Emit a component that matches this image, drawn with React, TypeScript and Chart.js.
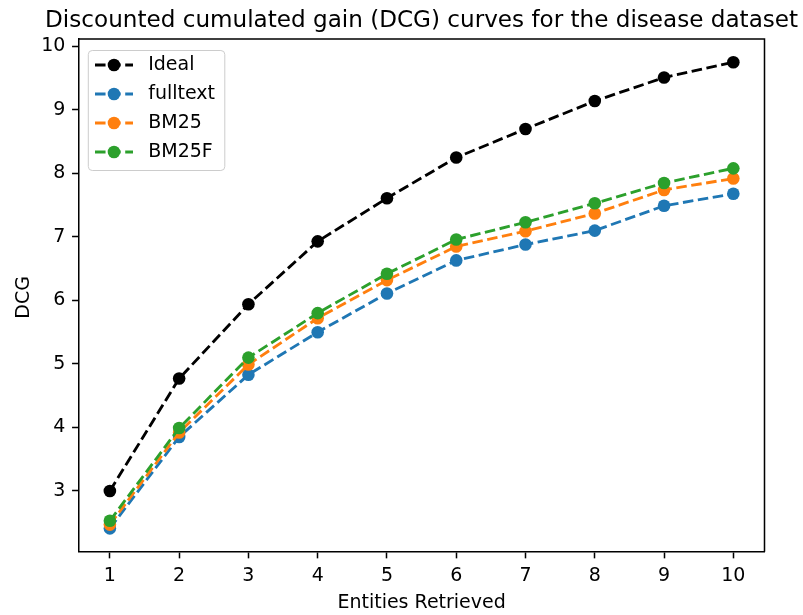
import React, { useEffect, useRef } from "react";
import { Chart, registerables } from "chart.js";

Chart.register(...registerables);

// ---- data ----
const entities = [1, 2, 3, 4, 5, 6, 7, 8, 9, 10];
const ideal = [3.0, 4.77, 5.94, 6.93, 7.61, 8.25, 8.7, 9.14, 9.51, 9.75];
const fulltext = [2.41, 3.85, 4.83, 5.5, 6.11, 6.63, 6.88, 7.1, 7.49, 7.68];
const bm25 = [2.47, 3.92, 4.99, 5.72, 6.32, 6.85, 7.09, 7.37, 7.74, 7.92];
const bm25f = [2.53, 3.99, 5.1, 5.8, 6.42, 6.96, 7.23, 7.53, 7.85, 8.08];
const seriesNames = ["Ideal", "fulltext", "BM25", "BM25F"];
const seriesValues = [ideal, fulltext, bm25, bm25f];
const seriesColors = ["#000000", "#1f77b4", "#ff7f0e", "#2ca02c"];
const xTicks = [1, 2, 3, 4, 5, 6, 7, 8, 9, 10];
const yTicks = [3, 4, 5, 6, 7, 8, 9, 10];
const titleText = "Discounted cumulated gain (DCG) curves for the disease dataset";
const xLabel = "Entities Retrieved";
const yLabel = "DCG";

// ---- style ----
const FONT = "'DejaVu Sans', sans-serif";
const PX = 1.9; // px per pt
const LW = 1.5 * PX;
const DASH = [3.7 * LW, 1.6 * LW];
const MARKER_R = 6.3;

function margins(values: number[]) {
  const lo = Math.min(...values);
  const hi = Math.max(...values);
  const r = hi - lo;
  return { min: lo - 0.05 * r, max: hi + 0.05 * r };
}

const textPlugin = {
  id: "mplDecor",
  afterDatasetsDraw(chart: any) {
    const { ctx, chartArea } = chart;
    const { left, right, top, bottom } = chartArea;
    ctx.save();
    ctx.strokeStyle = "#000";
    ctx.lineWidth = 0.8 * PX;
    ctx.beginPath();
    ctx.moveTo(left, top);
    ctx.lineTo(right, top);
    ctx.lineTo(right, bottom);
    ctx.stroke();
    ctx.restore();
  },
  afterDraw(chart: any) {
    const { ctx, chartArea } = chart;
    const { left, right, top, bottom } = chartArea;
    const cx = (left + right) / 2;
    const cy = (top + bottom) / 2;
    ctx.save();
    ctx.fillStyle = "#000";
    // title
    ctx.font = `${23.1}px ${FONT}`;
    ctx.textAlign = "center";
    ctx.textBaseline = "alphabetic";
    ctx.fillText(titleText, cx, 27);
    // axis labels
    ctx.font = `${10 * PX}px ${FONT}`;
    ctx.fillText(xLabel, cx, 607.5);
    ctx.save();
    ctx.translate(28.5, cy + 2);
    ctx.rotate(-Math.PI / 2);
    ctx.fillText(yLabel, 0, 0);
    ctx.restore();

    // legend
    const fs = 10 * PX;
    const bx = left + 9.6;
    const by = top + 11.5;
    const bw = 136.5;
    const rowH = 29;
    const bh = 120;
    const n = chart.data.datasets.length;
    ctx.beginPath();
    const rr = 4;
    ctx.moveTo(bx + rr, by);
    ctx.arcTo(bx + bw, by, bx + bw, by + bh, rr);
    ctx.arcTo(bx + bw, by + bh, bx, by + bh, rr);
    ctx.arcTo(bx, by + bh, bx, by, rr);
    ctx.arcTo(bx, by, bx + bw, by, rr);
    ctx.closePath();
    ctx.fillStyle = "rgba(255,255,255,0.8)";
    ctx.fill();
    ctx.strokeStyle = "#cccccc";
    ctx.lineWidth = 1;
    ctx.stroke();

    const hx0 = bx + 6.7;
    const hLen = 2 * fs;
    chart.data.datasets.forEach((ds: any, i: number) => {
      const y = by + 14.5 + i * rowH;
      ctx.save();
      ctx.strokeStyle = ds.borderColor;
      ctx.lineWidth = LW;
      ctx.setLineDash(DASH);
      ctx.beginPath();
      ctx.moveTo(hx0, y);
      ctx.lineTo(hx0 + hLen, y);
      ctx.stroke();
      ctx.setLineDash([]);
      ctx.fillStyle = ds.borderColor;
      ctx.beginPath();
      ctx.arc(hx0 + hLen / 2, y, MARKER_R, 0, Math.PI * 2);
      ctx.fill();
      ctx.restore();
      ctx.fillStyle = "#000";
      ctx.font = `${fs}px ${FONT}`;
      ctx.textAlign = "left";
      ctx.textBaseline = "middle";
      ctx.fillText(ds.label, hx0 + hLen + 0.8 * fs, y);
    });
    void n;
    ctx.restore();
  },
};

export default function App() {
  const ref = useRef<HTMLCanvasElement | null>(null);
  useEffect(() => {
    if (!ref.current) return;
    const allY = seriesValues.flat();
    const yr = margins(allY);
    const xr = margins(entities);
    const chart = new Chart(ref.current, {
      type: "line",
      data: {
        datasets: seriesNames.map((name, i) => ({
          label: name,
          data: entities.map((x, j) => ({ x, y: seriesValues[i][j] })),
          borderColor: seriesColors[i],
          backgroundColor: seriesColors[i],
          pointBackgroundColor: seriesColors[i],
          pointBorderWidth: 0,
          pointRadius: MARKER_R,
          pointHoverRadius: MARKER_R,
          borderWidth: LW,
          borderDash: DASH,
          fill: false,
          tension: 0,
          order: seriesNames.length - i,
        })),
      },
      options: {
        animation: false,
        responsive: false,
        events: [],
        layout: { padding: { top: 39, right: 38.5, left: 0, bottom: 0 } },
        plugins: {
          legend: { display: false },
          tooltip: { enabled: false },
          title: { display: false },
        },
        scales: {
          x: {
            type: "linear",
            min: xr.min,
            max: xr.max,
            afterBuildTicks: (s: any) => {
              s.ticks = xTicks.map((v) => ({ value: v }));
            },
            afterFit: (s: any) => {
              s.height = 615 - 551.7;
            },
            grid: {
              display: true,
              drawOnChartArea: false,
              drawTicks: true,
              tickLength: 3.5 * PX,
              tickWidth: 0.8 * PX,
              color: "#000",
            },
            border: { display: true, color: "#000", width: 0.8 * PX },
            ticks: {
              color: "#000",
              font: { family: FONT, size: 10 * PX },
              padding: 6,
              maxRotation: 0,
              autoSkip: false,
            },
          },
          y: {
            type: "linear",
            min: yr.min,
            max: yr.max,
            afterBuildTicks: (s: any) => {
              s.ticks = yTicks.map((v) => ({ value: v }));
            },
            afterFit: (s: any) => {
              s.width = 78.7;
            },
            grid: {
              display: true,
              drawOnChartArea: false,
              drawTicks: true,
              tickLength: 3.5 * PX,
              tickWidth: 0.8 * PX,
              color: "#000",
            },
            border: { display: true, color: "#000", width: 0.8 * PX },
            ticks: {
              color: "#000",
              font: { family: FONT, size: 10 * PX },
              padding: 3.5 * PX,
              autoSkip: false,
            },
          },
        },
      },
      plugins: [textPlugin],
    });
    return () => chart.destroy();
  }, []);
  return (
    <div
      style={{
        position: "fixed",
        left: 0,
        top: 0,
        width: 803,
        height: 615,
        background: "#fff",
      }}
    >
      <canvas ref={ref} width={803} height={615} />
    </div>
  );
}
